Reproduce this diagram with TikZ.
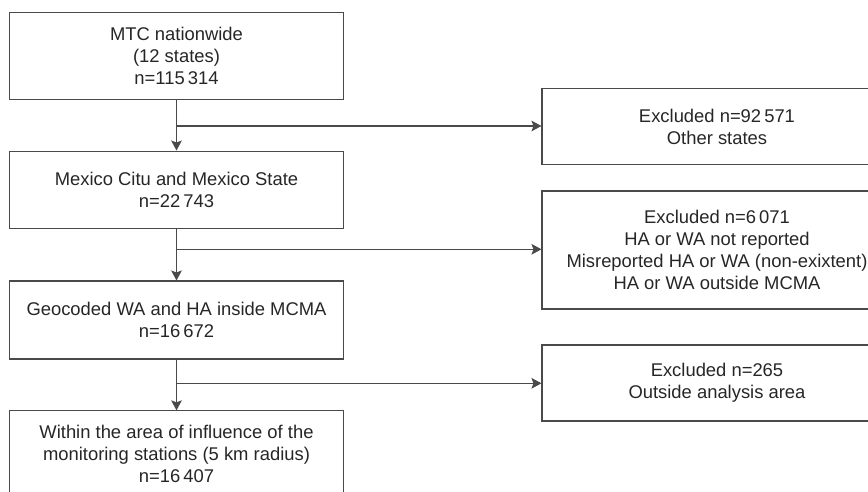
\documentclass[tikz,border=0pt]{standalone}
\usepackage{fontspec}
\setmainfont{Liberation Sans}
\usetikzlibrary{arrows.meta}
\definecolor{linegray}{HTML}{4A4A4A}
\tikzset{
  stage/.style={draw=linegray, line width=0.8pt, align=center, minimum width=251pt,
    inner sep=0pt, font=\fontsize{13.8}{16.5}\selectfont, text=black!85},
  excl/.style={stage, minimum width=262.5pt},
  flow/.style={draw=linegray, line width=0.8pt, -{Stealth[length=7.5pt,width=8pt,inset=1.5pt]}}
}
\begin{document}
\begin{tikzpicture}[x=0.75pt,y=-0.75pt]
        \useasboundingbox (0,0) rectangle (868,492);
        \clip (0,0) rectangle (868,492);

        \node[stage, minimum height=65pt] (mtc) at (176.5,56) {MTC nationwide\\(12 states)\\n=115\,314};
        \node[stage, minimum height=58pt] (mexico) at (176.5,189.7) {Mexico Citu and Mexico State\\n=22\,743};
        \node[stage, minimum height=58.5pt] (geo) at (176.5,320) {Geocoded WA and HA inside MCMA\\n=16\,672};
        \node[stage, minimum height=65pt] (within) at (176.5,454.2) {Within the area of influence of the\\monitoring stations (5 km radius)\\n=16\,407};

        \node[excl, minimum height=57.5pt] (exstates) at (717,126.6) {Excluded n=92\,571\\Other states};
        \node[excl, minimum height=88.5pt] (exgeo) at (717,250) {Excluded n=6\,071\\HA or WA not reported\\Misreported HA or WA (non-exixtent)\\HA or WA outside MCMA};
        \node[excl, minimum height=57pt] (exarea) at (717,383) {Excluded n=265\\Outside analysis area};

        \coordinate (b1) at (176.5,126);
        \coordinate (b2) at (176.5,249.3);
        \coordinate (b3) at (176.5,383.3);

        \draw[flow] (mtc) -- (mexico);
        \draw[flow] (mexico) -- (geo);
        \draw[flow] (geo) -- (within);
        \draw[flow] (b1) -- (b1 -| exstates.west);
        \draw[flow] (b2) -- (b2 -| exgeo.west);
        \draw[flow] (b3) -- (b3 -| exarea.west);
\end{tikzpicture}
\end{document}
